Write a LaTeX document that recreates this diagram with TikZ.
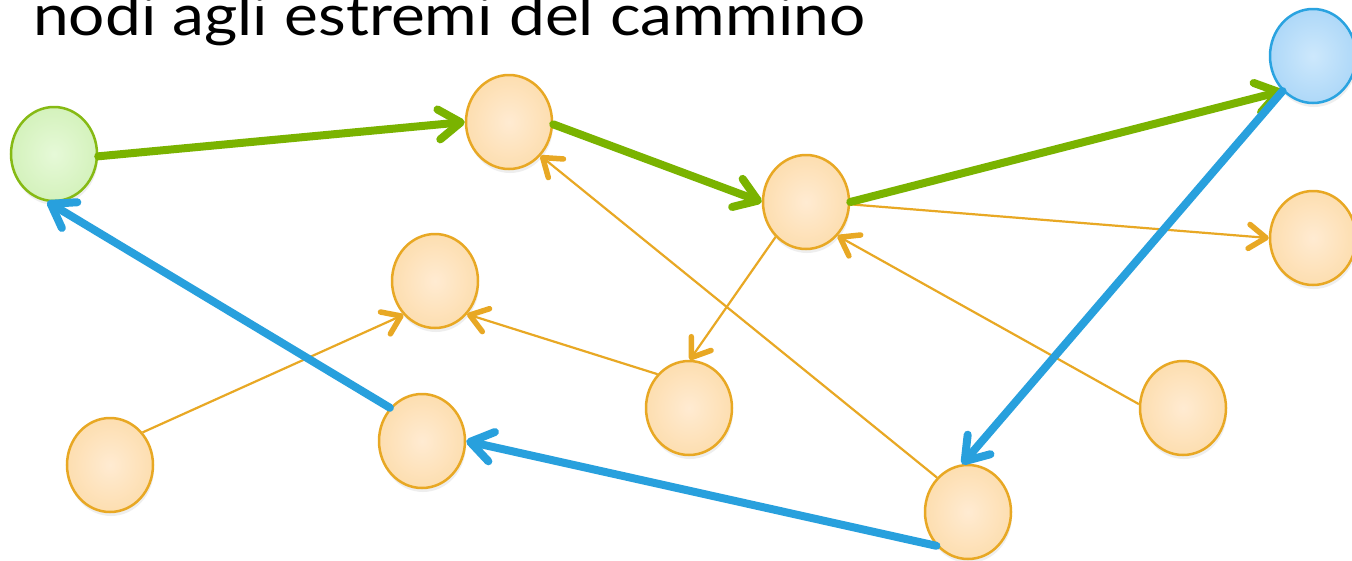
\documentclass[tikz,border=0pt]{standalone}
\usepackage{fontspec}
\usepackage{graphicx}
\setmainfont{Lato}
\usetikzlibrary{arrows.meta,shapes.geometric,shadows}
\definecolor{ocol}{HTML}{E8A824}
\definecolor{ofill}{HTML}{FDDEB0}
\definecolor{ofillin}{HTML}{FFEBD2}
\definecolor{gcol}{HTML}{86BA14}
\definecolor{gfill}{HTML}{D4F2BC}
\definecolor{gfillin}{HTML}{E6F9D8}
\definecolor{bcol}{HTML}{2AA3E0}
\definecolor{bfill}{HTML}{AED8F8}
\definecolor{bfillin}{HTML}{CDE8FC}
\definecolor{gline}{HTML}{7AB300}
\definecolor{bline}{HTML}{28A0DD}
\begin{document}
\begin{tikzpicture}[x=1pt,y=-1pt,
  nd/.style={ellipse, minimum width=86pt, minimum height=94pt, inner sep=0pt, line width=2.5pt,
    drop shadow={shadow xshift=1pt, shadow yshift=-4pt, opacity=0.13}},
  onode/.style={nd, draw=ocol, inner color=ofillin, outer color=ofill},
  gnode/.style={nd, draw=gcol, inner color=gfillin, outer color=gfill},
  bnode/.style={nd, draw=bcol, inner color=bfillin, outer color=bfill},
  thk/.style={line width=8pt, line cap=round, -{Straight Barb[length=22pt,width=30pt,line width=8pt,round]}},
  gedge/.style={thk, draw=gline},
  bedge/.style={thk, draw=bline},
  oedge/.style={line width=2.2pt, draw=ocol, -{Straight Barb[length=17pt,width=24pt,line width=5.5pt,round]}}
]
\fill[white] (0,0) rectangle (1352,560);
\useasboundingbox (0,0) rectangle (1352,560);
\node[anchor=base west, font=\fontsize{57}{60}\selectfont, inner sep=0pt] (title) at (33,35) {\resizebox{832pt}{\height}{nodi agli estremi del cammino}};

\node[gnode] (g) at (54,154) {};
\node[onode] (a) at (509,122) {};
\node[onode] (b) at (806,202) {};
\node[bnode] (u) at (1313,56) {};
\node[onode] (r) at (1313,238) {};
\node[onode] (c) at (435,281) {};
\node[onode] (d) at (689,408) {};
\node[onode] (e) at (422,441) {};
\node[onode] (f) at (110,465) {};
\node[onode] (h) at (968,512) {};
\node[onode] (k) at (1183,408) {};

\draw[oedge] (h.132) -- (a.-47);
\draw[oedge] (b.229) -- (d.89);
\draw[oedge] (b.-3) -- (r.180);
\draw[oedge] (k.175) -- (b.-47);
\draw[oedge] (d.133) -- (c.-46);
\draw[oedge] (f.45) -- (c.227);

\draw[gedge] (g.-3) -- (a.180);
\draw[gedge] (a.-3) -- (b.180);
\draw[gedge] (b.0) -- (u.229);

\draw[bedge] (u.229) -- (h.97);
\draw[bedge] (h.227) -- (e.0);
\draw[bedge] (e.134) -- (g.262);
\end{tikzpicture}
\end{document}
